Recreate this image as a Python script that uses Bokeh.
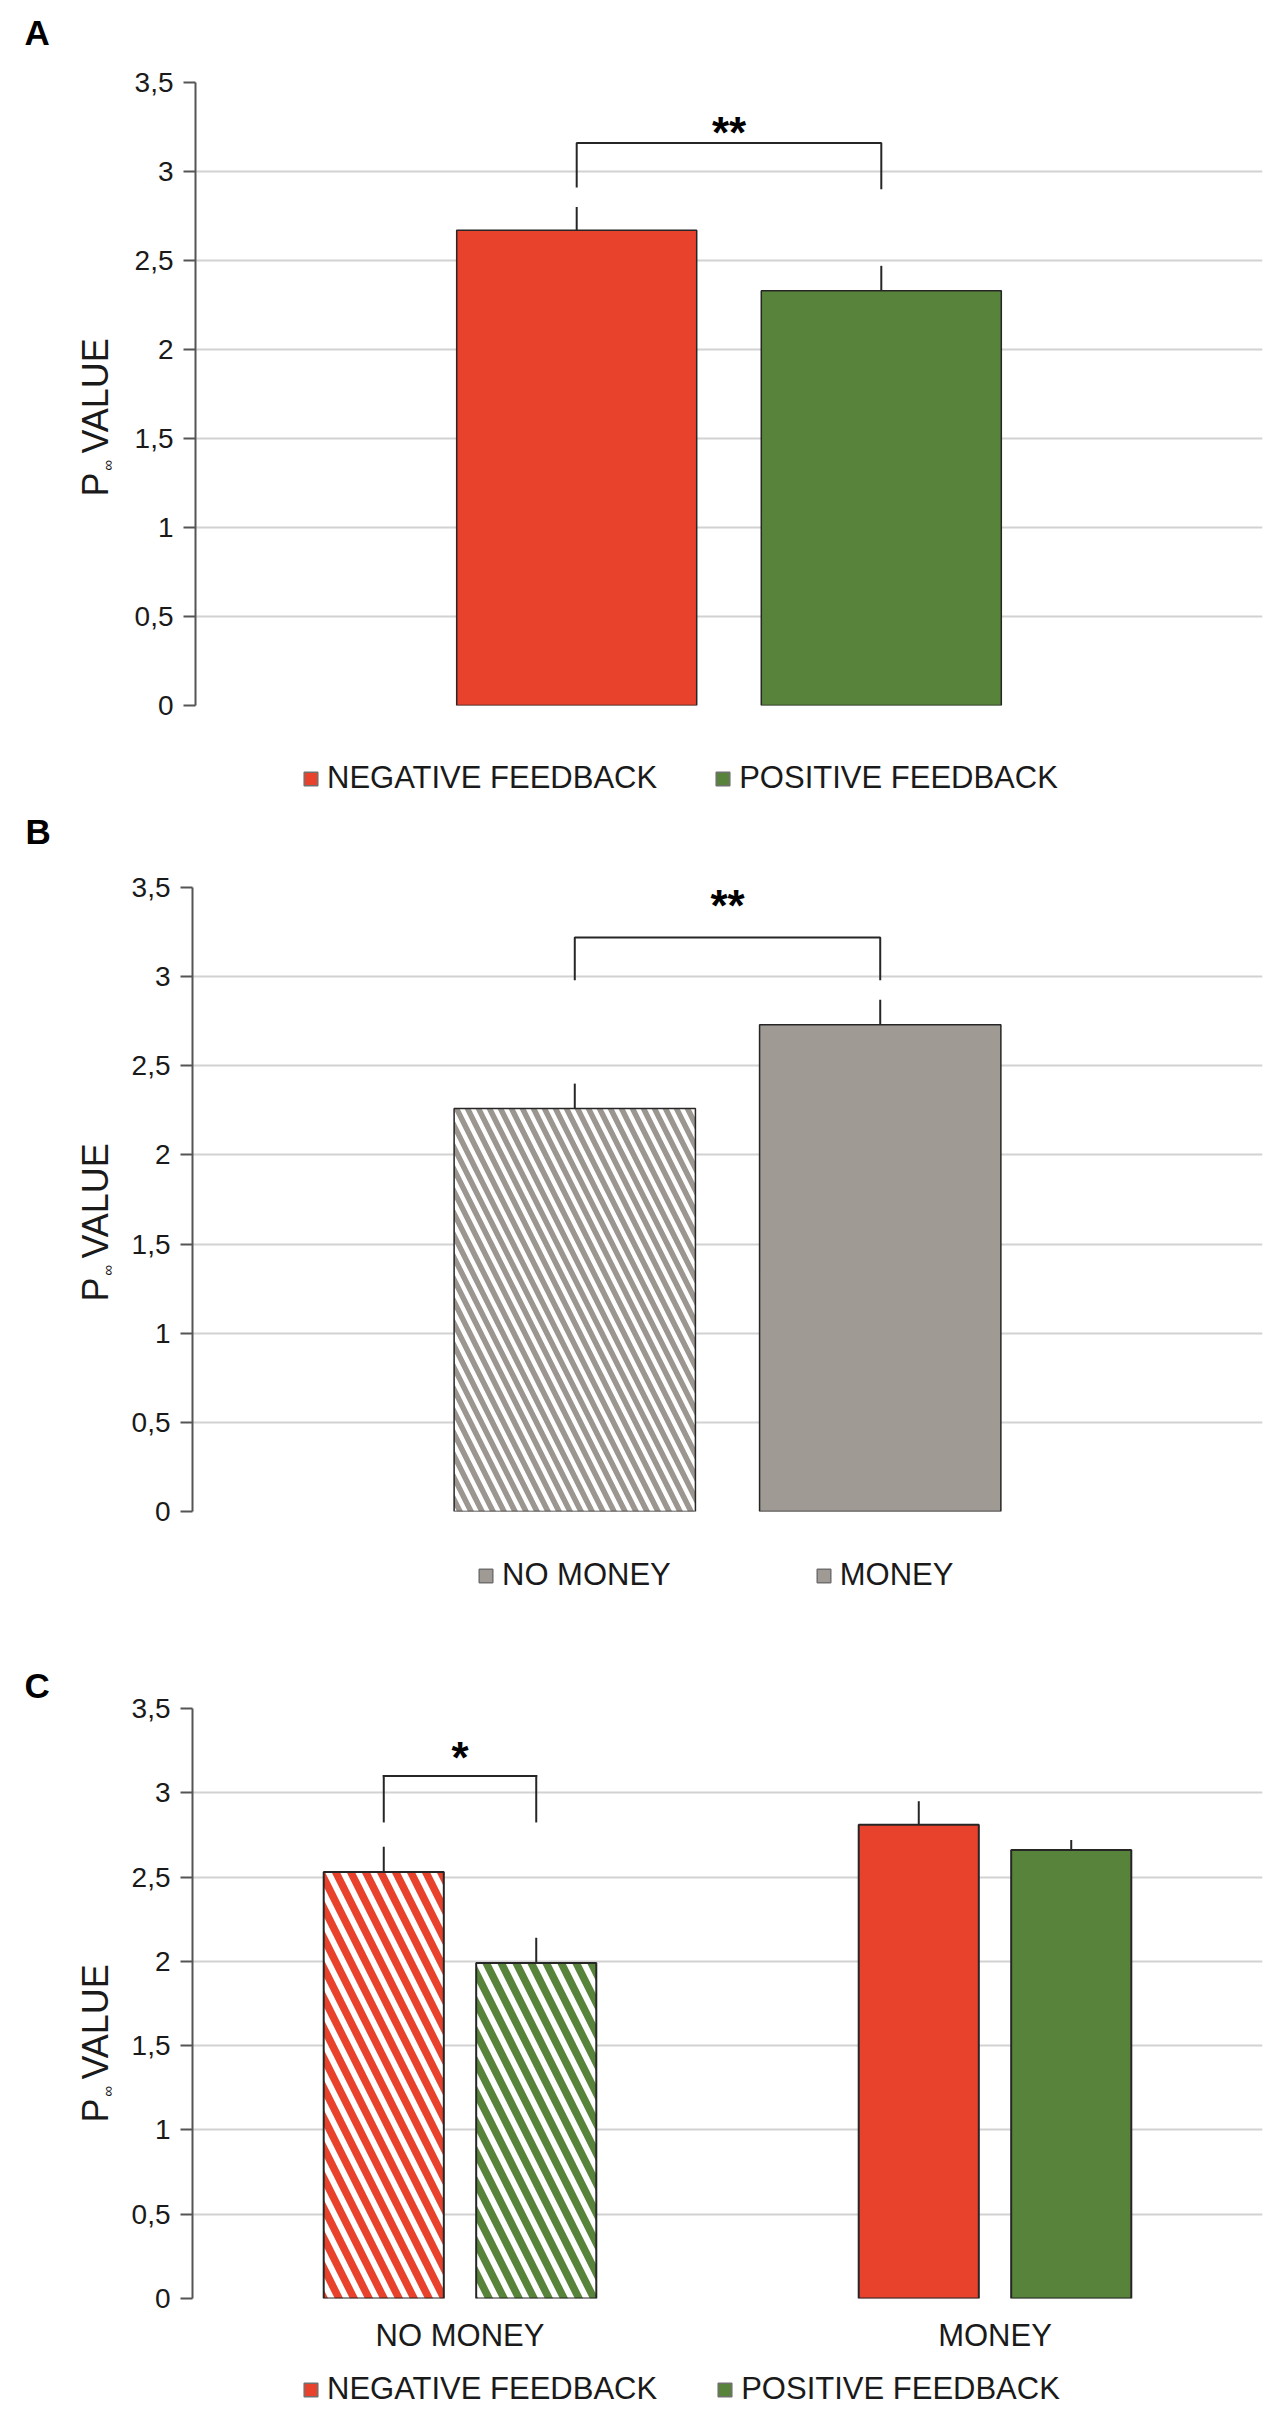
import math
from bokeh.plotting import figure
from bokeh.models import (FactorRange, Range1d, FixedTicker, Legend, LegendItem,
                          ColumnDataSource)
from bokeh.transform import dodge
from bokeh.layouts import column, row
from bokeh.core.properties import value
from bokeh.embed import file_html
from bokeh.resources import INLINE

# ---------------- data ----------------
A_series = ["NEGATIVE FEEDBACK", "POSITIVE FEEDBACK"]
A_values = [2.67, 2.33]
A_errors = [0.13, 0.14]
A_star = "**"
A_bracket = [2.91, 3.16, 2.90]      # left leg end, top, right leg end
A_star_y = 3.22

B_series = ["NO MONEY", "MONEY"]
B_values = [2.26, 2.73]
B_errors = [0.14, 0.14]
B_star = "**"
B_bracket = [2.98, 3.22, 2.98]
B_star_y = 3.40

C_groups = ["NO MONEY", "MONEY"]
C_feedback = ["NEGATIVE FEEDBACK", "POSITIVE FEEDBACK"]
C_negative = [2.53, 2.81]
C_negative_err = [0.15, 0.14]
C_positive = [1.99, 2.66]
C_positive_err = [0.15, 0.06]
C_hatched_group = "NO MONEY"
C_star = "*"
C_bracket = [2.83, 3.10, 2.83]
C_star_y = 3.21

y_ticks = [0, 0.5, 1, 1.5, 2, 2.5, 3, 3.5]
y_tick_labels = ["0", "0,5", "1", "1,5", "2", "2,5", "3", "3,5"]
y_title_p, y_title_sub, y_title_rest = "P", "\u221e", "VALUE"
panel_letters = ["A", "B", "C"]

# ---------------- style ----------------
FONT = "Liberation Sans"
TEXT = "#1a1a1a"
RED = "#E8412C"
GREEN = "#57843A"
GRAY = "#A09A95"
HATCH_GRAY = "#9C9690"
GRID = "#d2d2d2"
AXIS = "#555555"
OUTLINE = "#262626"
LEG_BORDER = "#707070"
STRIP_W = 120
TOTAL_W = 1264


def blank_figure(width, height):
    s = figure(width=width, height=height, x_range=Range1d(0, width),
               y_range=Range1d(0, height), output_backend="svg", toolbar_location=None,
               x_axis_location=None, y_axis_location=None, min_border=0,
               frame_align=False)
    s.outline_line_color = None
    s.background_fill_color = "white"
    s.border_fill_color = "white"
    s.xgrid.visible = False
    s.ygrid.visible = False
    return s


def make_figure(height, x_range, left, top, bottom, with_xaxis):
    p = figure(width=TOTAL_W - STRIP_W, height=height, x_range=x_range,
               y_range=Range1d(0, 3.5), output_backend="svg", toolbar_location=None,
               x_axis_location="below" if with_xaxis else None,
               min_border_left=left, min_border_right=2,
               min_border_top=top, min_border_bottom=bottom, frame_align=False)
    p.outline_line_color = None
    p.background_fill_color = "white"
    p.border_fill_color = "white"
    p.xgrid.grid_line_color = None
    p.ygrid.grid_line_color = GRID
    p.ygrid.grid_line_width = 2
    ya = p.yaxis[0]
    ya.ticker = FixedTicker(ticks=y_ticks)
    ya.major_label_overrides = dict(zip(y_ticks, y_tick_labels))
    ya.axis_line_color = AXIS
    ya.axis_line_width = 2
    ya.major_tick_line_color = AXIS
    ya.major_tick_line_width = 2
    ya.major_tick_in = 0
    ya.major_tick_out = 12
    ya.minor_tick_line_color = None
    ya.major_label_standoff = 10
    ya.major_label_text_font = FONT
    ya.major_label_text_font_size = "28px"
    ya.major_label_text_color = TEXT
    if with_xaxis:
        xa = p.xaxis[0]
        xa.axis_line_color = None
        xa.major_tick_line_color = None
        xa.minor_tick_line_color = None
        xa.major_tick_out = 0
        xa.major_tick_in = 0
        xa.major_label_standoff = 19
        xa.major_label_text_font = FONT
        xa.major_label_text_font_size = "31px"
        xa.major_label_text_color = TEXT
    return p


def make_strip(height, letter, letter_x, letter_y, lab_x, lab_y):
    s = blank_figure(STRIP_W, height)
    s.text(x=[letter_x], y=[letter_y], text=[letter], text_font=value(FONT),
           text_font_style="bold", text_font_size=value("35px"), text_color="black",
           text_align="left", text_baseline="alphabetic")
    common = dict(angle=math.pi / 2, text_font=value(FONT), text_color=TEXT,
                  text_baseline="alphabetic")
    s.text(x=[lab_x], y=[lab_y], text=[y_title_p], text_align="left",
           text_font_size=value("36px"), **common)
    s.text(x=[lab_x + 12], y=[lab_y + 31], text=[y_title_sub], text_align="center",
           text_font_size=value("15px"), **common)
    s.text(x=[lab_x], y=[lab_y + 43], text=[y_title_rest], text_align="left",
           text_font_size=value("36px"), **common)
    return s


def make_legend_fig(height, labels, colors, vx, vy, spacing):
    s = blank_figure(TOTAL_W, height)
    items = []
    for lab, col in zip(labels, colors):
        # invisible proxy renderer: only its legend swatch is drawn
        r = s.vbar(x=[0], top=[0], width=0, fill_color=col, line_color=LEG_BORDER,
                   line_width=1.5, visible=False)
        items.append(LegendItem(label=lab, renderers=[r]))
    leg = Legend(items=items, orientation="horizontal", location=(vx, vy),
                 glyph_width=17, glyph_height=17, label_standoff=8, spacing=spacing,
                 label_height=31, padding=0, margin=0, border_line_alpha=0,
                 background_fill_alpha=0, inactive_fill_alpha=0, click_policy="none",
                 label_text_font=FONT, label_text_font_size="31px",
                 label_text_color=TEXT)
    s.add_layout(leg)
    return s


def add_pair_bracket(p, left, right, levels, star, star_x, star_y, x_range):
    p.line(x=[left, left, right, right], y=[levels[0], levels[1], levels[1], levels[2]],
           line_color=OUTLINE, line_width=2)
    src = ColumnDataSource(dict(x=[star_x], y=[star_y], t=[star]))
    p.text(x=dodge("x", 0.5, range=x_range), y="y", text="t", source=src,
           text_font=value(FONT), text_font_style="bold", text_font_size=value("44px"),
           text_align="center", text_baseline="middle", text_color="black")


PAD = 0.7515  # range padding on each side, in factor units

# ---------------- panel A ----------------
HA = 730
xrA = FactorRange(factors=A_series, range_padding=PAD, range_padding_units="absolute")
pA = make_figure(HA, xrA, 75, 82, 25, False)
srcA = ColumnDataSource(dict(x=A_series, top=A_values,
                             upper=[v + e for v, e in zip(A_values, A_errors)],
                             color=[RED, GREEN]))
pA.vbar(x="x", top="top", width=0.788, fill_color="color", line_color=OUTLINE,
        line_width=1.5, source=srcA)
pA.segment(x0="x", y0="top", x1="x", y1="upper", line_color=OUTLINE, line_width=2,
           source=srcA)
add_pair_bracket(pA, A_series[0], A_series[1], A_bracket, A_star, A_series[0], A_star_y, xrA)
sA = make_strip(HA, panel_letters[0], 24, HA - 32, 95, HA - 496)
lA = make_legend_fig(70, A_series, [RED, GREEN], 302, 4, 57)

# ---------------- panel B ----------------
HB = 736
xrB = FactorRange(factors=B_series, range_padding=PAD, range_padding_units="absolute")
pB = make_figure(HB, xrB, 72, 87, 25, False)
srcB = ColumnDataSource(dict(x=B_series, top=B_values,
                             upper=[v + e for v, e in zip(B_values, B_errors)],
                             fill=["white", GRAY],
                             hatch=["\\", " "]))
pB.vbar(x="x", top="top", width=0.79, fill_color="fill", hatch_pattern="hatch",
        hatch_color=HATCH_GRAY, hatch_scale=22, hatch_weight=5.5,
        line_color=OUTLINE, line_width=1.5, source=srcB)
pB.segment(x0="x", y0="top", x1="x", y1="upper", line_color=OUTLINE, line_width=2,
           source=srcB)
add_pair_bracket(pB, B_series[0], B_series[1], B_bracket, B_star, B_series[0], B_star_y, xrB)
sB = make_strip(HB, panel_letters[1], 25, HB - 31, 95, HB - 501)
lB = make_legend_fig(71, B_series, [GRAY, GRAY], 477, 14, 144)

# ---------------- panel C ----------------
HC = 751
xrC = FactorRange(factors=C_groups, range_padding=0)
pC = make_figure(HC, xrC, 72, 101, 60, True)
OFF = 0.1425
BW = 0.2245
for vals, errs, col, off in [(C_negative, C_negative_err, RED, -OFF),
                             (C_positive, C_positive_err, GREEN, OFF)]:
    src = ColumnDataSource(dict(
        g=C_groups, top=vals, upper=[v + e for v, e in zip(vals, errs)],
        fill=["white" if g == C_hatched_group else col for g in C_groups],
        hatch=["\\" if g == C_hatched_group else " " for g in C_groups]))
    pC.vbar(x=dodge("g", off, range=xrC), top="top", width=BW, fill_color="fill",
            hatch_pattern="hatch", hatch_color=col, hatch_scale=30, hatch_weight=7.5,
            line_color=OUTLINE, line_width=2, source=src)
    pC.segment(x0=dodge("g", off, range=xrC), y0="top", x1=dodge("g", off, range=xrC),
               y1="upper", line_color=OUTLINE, line_width=2, source=src)

srcBr = ColumnDataSource(dict(g=[C_groups[0]], lo=[C_bracket[0]], top=[C_bracket[1]],
                              ro=[C_bracket[2]], t=[C_star], sy=[C_star_y]))
pC.segment(x0=dodge("g", -OFF, range=xrC), y0="lo", x1=dodge("g", -OFF, range=xrC), y1="top",
           line_color=OUTLINE, line_width=2, line_cap="square", source=srcBr)
pC.segment(x0=dodge("g", -OFF, range=xrC), y0="top", x1=dodge("g", OFF, range=xrC), y1="top",
           line_color=OUTLINE, line_width=2, line_cap="square", source=srcBr)
pC.segment(x0=dodge("g", OFF, range=xrC), y0="ro", x1=dodge("g", OFF, range=xrC), y1="top",
           line_color=OUTLINE, line_width=2, line_cap="square", source=srcBr)
pC.text(x="g", y="sy", text="t", source=srcBr, text_font=value(FONT),
        text_font_style="bold", text_font_size=value("44px"), text_align="center",
        text_baseline="middle", text_color="black")
sC = make_strip(HC, panel_letters[2], 24, HC - 78, 95, HC - 515)
lC = make_legend_fig(50, C_feedback, [RED, GREEN], 302, 1, 59)

layout = column(row(sA, pA, spacing=0), lA,
                row(sB, pB, spacing=0), lB,
                row(sC, pC, spacing=0), lC,
                spacing=0)
open("out.html", "w").write(file_html(layout, INLINE))
